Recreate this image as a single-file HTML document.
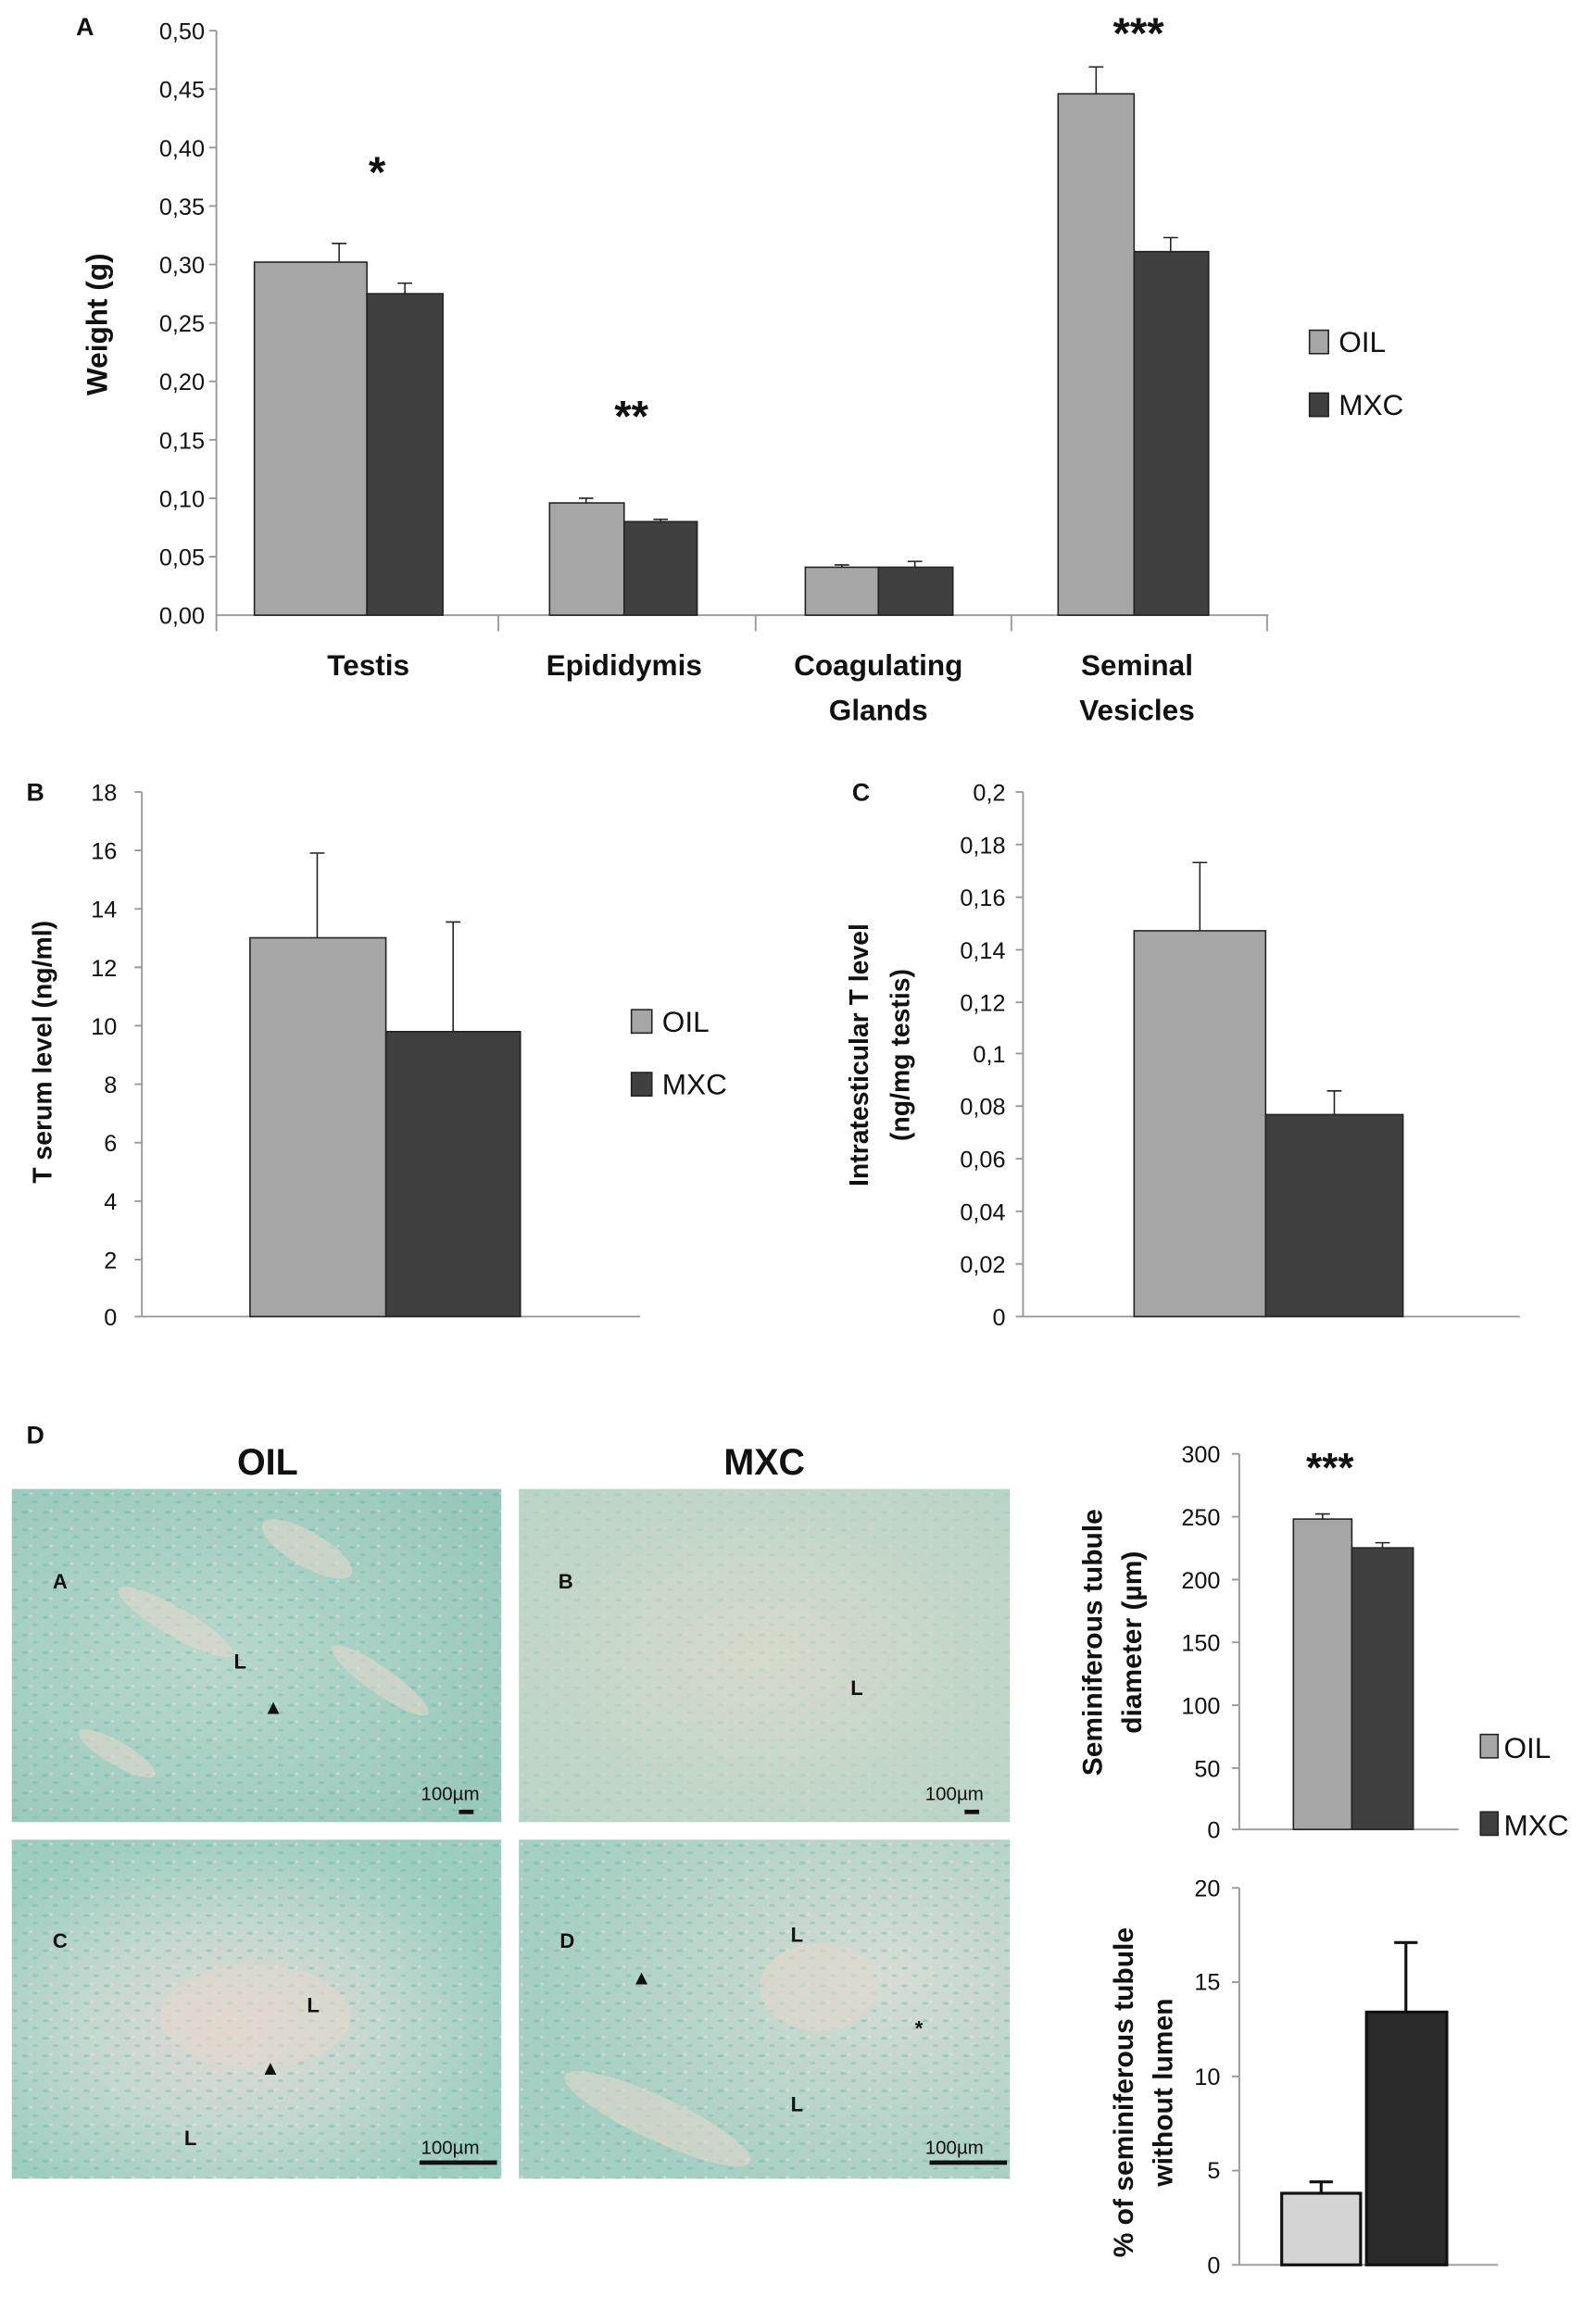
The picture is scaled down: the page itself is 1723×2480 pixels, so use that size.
<!DOCTYPE html>
<html><head><meta charset="utf-8"><style>
html,body{margin:0;padding:0;background:#fff}
svg{display:block}
text{font-family:"Liberation Sans",sans-serif;fill:#111}
.t{font-size:16px}
.b{font-weight:bold}
</style></head><body>
<svg width="1723" height="2480" viewBox="0 0 1092 1572" xmlns="http://www.w3.org/2000/svg">
<defs>
<radialGradient id="g1" cx="40%" cy="50%" r="70%"><stop offset="0" stop-color="#b9d8cd"/><stop offset="1" stop-color="#98c8bb"/></radialGradient>
<radialGradient id="g2" cx="50%" cy="50%" r="70%"><stop offset="0" stop-color="#d6dacb"/><stop offset="1" stop-color="#b8d4c6"/></radialGradient>
<radialGradient id="g3" cx="45%" cy="55%" r="60%"><stop offset="0" stop-color="#e3dad4"/><stop offset="0.5" stop-color="#c3d8d0"/><stop offset="1" stop-color="#9ccdc0"/></radialGradient>
<radialGradient id="g4" cx="75%" cy="40%" r="70%"><stop offset="0" stop-color="#d6ddd4"/><stop offset="1" stop-color="#a6cfc3"/></radialGradient>
<pattern id="tx" width="14" height="12" patternUnits="userSpaceOnUse">
<ellipse cx="3" cy="3" rx="2.2" ry="1" fill="#4fb3a0" opacity="0.35"/>
<ellipse cx="10" cy="8" rx="2" ry="1" fill="#4fb3a0" opacity="0.3"/>
<circle cx="7" cy="2" r="1" fill="#f0e6dc" opacity="0.5"/>
</pattern>
</defs>

<!-- Panel A -->
<text x="52" y="24" class="b" font-size="17">A</text>
<g class="t" text-anchor="end" font-size="16">
<text x="140" y="27">0,50</text><text x="140" y="67">0,45</text><text x="140" y="107">0,40</text>
<text x="140" y="147">0,35</text><text x="140" y="187">0,30</text><text x="140" y="227">0,25</text>
<text x="140" y="267">0,20</text><text x="140" y="307">0,15</text><text x="140" y="347">0,10</text>
<text x="140" y="387">0,05</text><text x="140" y="427">0,00</text>
</g>
<g stroke="#999" stroke-width="1.2">
<line x1="148" y1="21" x2="148" y2="432"/><line x1="148" y1="421" x2="868" y2="421"/>
<line x1="143" y1="21" x2="148" y2="21"/><line x1="143" y1="61" x2="148" y2="61"/><line x1="143" y1="101" x2="148" y2="101"/><line x1="143" y1="141" x2="148" y2="141"/><line x1="143" y1="181" x2="148" y2="181"/><line x1="143" y1="221" x2="148" y2="221"/><line x1="143" y1="261" x2="148" y2="261"/><line x1="143" y1="301" x2="148" y2="301"/><line x1="143" y1="341" x2="148" y2="341"/><line x1="143" y1="381" x2="148" y2="381"/>
<line x1="341" y1="421" x2="341" y2="432"/><line x1="517" y1="421" x2="517" y2="432"/><line x1="692" y1="421" x2="692" y2="432"/><line x1="867" y1="421" x2="867" y2="432"/>
</g>
<g stroke="#222" stroke-width="1">
<rect x="174" y="179.4" width="77" height="241.6" fill="#a6a6a6"/>
<rect x="251" y="201" width="52" height="220" fill="#404040"/>
<rect x="376" y="344.2" width="51" height="76.8" fill="#a6a6a6"/>
<rect x="427" y="357" width="50" height="64" fill="#404040"/>
<rect x="551" y="388.2" width="50" height="32.8" fill="#a6a6a6"/>
<rect x="601" y="388.2" width="51" height="32.8" fill="#404040"/>
<rect x="724" y="64.2" width="52" height="356.8" fill="#a6a6a6"/>
<rect x="776" y="172.2" width="51" height="248.8" fill="#404040"/>
<path d="M232 179V166.6M227 166.6H237M277 201V193.8M272 193.8H282M401 344V341M396 341H406M452 357V355.4M447 355.4H457M576 388V386.6M571 386.6H581M626 388V384.2M621 384.2H631M750 64V45.8M745 45.8H755M801 172V162.6M796 162.6H806" fill="none"/>
</g>
<g font-size="30" text-anchor="middle" class="b"><text x="258" y="128">*</text><text x="432" y="295">**</text><text x="779" y="33">***</text></g>
<text transform="translate(73,222) rotate(-90)" text-anchor="middle" class="b" font-size="20">Weight (g)</text>
<g text-anchor="middle" font-size="20" class="b" fill="#222">
<text x="252" y="462">Testis</text><text x="427" y="462">Epididymis</text>
<text x="601" y="462">Coagulating</text><text x="601" y="493">Glands</text>
<text x="778" y="462">Seminal</text><text x="778" y="493">Vesicles</text>
</g>
<rect x="896" y="226" width="13" height="16" fill="#a6a6a6" stroke="#222"/>
<text x="916" y="241" font-size="20">OIL</text>
<rect x="896" y="269" width="13" height="16" fill="#404040" stroke="#222"/>
<text x="916" y="284" font-size="20">MXC</text>

<!-- Panel B -->
<text x="18" y="548" class="b" font-size="17">B</text>
<g text-anchor="end" font-size="16">
<text x="80" y="548">18</text><text x="80" y="588">16</text><text x="80" y="628">14</text><text x="80" y="668">12</text><text x="80" y="708">10</text><text x="80" y="748">8</text><text x="80" y="788">6</text><text x="80" y="828">4</text><text x="80" y="868">2</text><text x="80" y="907">0</text>
</g>
<g stroke="#999" stroke-width="1.2">
<line x1="97" y1="542" x2="97" y2="901"/><line x1="97" y1="901" x2="438" y2="901"/>
<path d="M92 542H97M92 582H97M92 622H97M92 662H97M92 702H97M92 742H97M92 782H97M92 822H97M92 862H97M92 901H97"/>
</g>
<g stroke="#222" stroke-width="1">
<rect x="171" y="641.8" width="93" height="259.2" fill="#a6a6a6"/>
<rect x="264" y="706" width="92" height="195" fill="#404040"/>
<path d="M217 642V583.8M212 583.8H222M310 706V631M305 631H315" fill="none"/>
</g>
<text transform="translate(35,720) rotate(-90)" text-anchor="middle" class="b" font-size="18">T serum level (ng/ml)</text>
<rect x="432" y="691" width="14" height="16" fill="#a6a6a6" stroke="#222"/>
<text x="453" y="706" font-size="20">OIL</text>
<rect x="432" y="734" width="14" height="16" fill="#404040" stroke="#222"/>
<text x="453" y="749" font-size="20">MXC</text>

<!-- Panel C -->
<text x="583" y="548" class="b" font-size="17">C</text>
<g text-anchor="end" font-size="16">
<text x="688" y="548">0,2</text><text x="688" y="584">0,18</text><text x="688" y="620">0,16</text><text x="688" y="656">0,14</text><text x="688" y="692">0,12</text><text x="688" y="727">0,1</text><text x="688" y="763">0,08</text><text x="688" y="799">0,06</text><text x="688" y="835">0,04</text><text x="688" y="871">0,02</text><text x="688" y="907">0</text>
</g>
<g stroke="#999" stroke-width="1.2">
<line x1="700" y1="542" x2="700" y2="901"/><line x1="700" y1="901" x2="1040" y2="901"/>
<path d="M695 542H700M695 578H700M695 614H700M695 650H700M695 686H700M695 721H700M695 757H700M695 793H700M695 829H700M695 865H700M695 901H700"/>
</g>
<g stroke="#222" stroke-width="1">
<rect x="776" y="637" width="90" height="264" fill="#a6a6a6"/>
<rect x="866" y="762.8" width="94" height="138.2" fill="#404040"/>
<path d="M821 637V590.3M816 590.3H826M913 763V746.6M908 746.6H918" fill="none"/>
</g>
<text transform="translate(594,722) rotate(-90)" text-anchor="middle" class="b" font-size="18">Intratesticular T level</text>
<text transform="translate(622,722) rotate(-90)" text-anchor="middle" class="b" font-size="18">(ng/mg testis)</text>

<!-- Panel D -->
<text x="18" y="988" class="b" font-size="17">D</text>
<text x="183" y="1009" text-anchor="middle" class="b" font-size="25">OIL</text>
<text x="523" y="1009" text-anchor="middle" class="b" font-size="25">MXC</text>
<rect x="8" y="1019" width="335" height="228" fill="url(#g1)"/>
<rect x="355" y="1019" width="336" height="228" fill="url(#g2)"/>
<rect x="8" y="1259" width="335" height="232" fill="url(#g3)"/>
<rect x="355" y="1259" width="336" height="232" fill="url(#g4)"/>
<rect x="8" y="1019" width="335" height="228" fill="url(#tx)"/>
<rect x="355" y="1019" width="336" height="228" fill="url(#tx)" opacity="0.4"/>
<rect x="8" y="1259" width="335" height="232" fill="url(#tx)"/>
<rect x="355" y="1259" width="336" height="232" fill="url(#tx)"/>
<g fill="#e3d8cc" opacity="0.6">
<ellipse cx="210" cy="1060" rx="35" ry="12" transform="rotate(30 210 1060)"/>
<ellipse cx="120" cy="1110" rx="45" ry="10" transform="rotate(30 120 1110)"/>
<ellipse cx="260" cy="1150" rx="40" ry="9" transform="rotate(35 260 1150)"/>
<ellipse cx="80" cy="1200" rx="30" ry="8" transform="rotate(30 80 1200)"/>
<ellipse cx="175" cy="1380" rx="65" ry="35"/>
<ellipse cx="560" cy="1360" rx="40" ry="30"/>
<ellipse cx="450" cy="1450" rx="70" ry="15" transform="rotate(25 450 1450)"/>
</g>
<g font-size="14" class="b" fill="#222">
<text x="36" y="1087">A</text><text x="382" y="1087">B</text><text x="36" y="1333">C</text><text x="383" y="1333">D</text>
<text x="160" y="1142">L</text><text x="582" y="1160">L</text><text x="210" y="1377">L</text><text x="126" y="1468">L</text><text x="541" y="1329">L</text><text x="541" y="1445">L</text>
<text x="180" y="1173">▲</text><text x="178" y="1420">▲</text><text x="432" y="1358">▲</text><text x="626" y="1393">*</text>
</g>
<g font-size="13" fill="#222"><text x="288" y="1232">100µm</text><text x="633" y="1232">100µm</text><text x="288" y="1474">100µm</text><text x="633" y="1474">100µm</text></g>
<g stroke="#111" stroke-width="3"><line x1="314" y1="1240" x2="324" y2="1240"/><line x1="660" y1="1240" x2="670" y2="1240"/><line x1="287" y1="1480" x2="340" y2="1480"/><line x1="636" y1="1480" x2="689" y2="1480"/></g>

<!-- D chart 1 -->
<g text-anchor="end" font-size="16">
<text x="835" y="1001">300</text><text x="835" y="1044">250</text><text x="835" y="1087">200</text><text x="835" y="1130">150</text><text x="835" y="1173">100</text><text x="835" y="1216">50</text><text x="835" y="1258">0</text>
</g>
<g stroke="#999" stroke-width="1.2">
<line x1="848" y1="995" x2="848" y2="1252"/><line x1="848" y1="1252" x2="998" y2="1252"/>
<path d="M843 995H848M843 1038H848M843 1081H848M843 1124H848M843 1167H848M843 1210H848M843 1252H848"/>
</g>
<g stroke="#222" stroke-width="1">
<rect x="885" y="1039.6" width="40" height="212.4" fill="#a6a6a6"/>
<rect x="925" y="1059.3" width="42" height="192.7" fill="#404040"/>
<path d="M905 1040V1036.1M900 1036.1H910M946 1059V1055.8M941 1055.8H951" fill="none"/>
</g>
<text x="910" y="1014" text-anchor="middle" class="b" font-size="28">***</text>
<text transform="translate(754,1124) rotate(-90)" text-anchor="middle" class="b" font-size="19">Seminiferous tubule</text>
<text transform="translate(781,1124) rotate(-90)" text-anchor="middle" class="b" font-size="19">diameter (µm)</text>
<rect x="1013" y="1187" width="12" height="16" fill="#a6a6a6" stroke="#222"/>
<text x="1029" y="1203" font-size="20">OIL</text>
<rect x="1013" y="1240" width="12" height="16" fill="#404040" stroke="#222"/>
<text x="1029" y="1256" font-size="20">MXC</text>

<!-- D chart 2 -->
<g text-anchor="end" font-size="16">
<text x="835" y="1298">20</text><text x="835" y="1362">15</text><text x="835" y="1427">10</text><text x="835" y="1491">5</text><text x="835" y="1556">0</text>
</g>
<g stroke="#999" stroke-width="1.2">
<line x1="848" y1="1292" x2="848" y2="1550"/><line x1="848" y1="1550" x2="1025" y2="1550"/>
<path d="M843 1292H848M843 1356.5H848M843 1421H848M843 1485.5H848M843 1550H848"/>
</g>
<g stroke="#111" stroke-width="2">
<rect x="877" y="1501" width="54" height="49" fill="#d4d4d4"/>
<rect x="935" y="1377" width="55" height="173" fill="#2a2a2a"/>
<path d="M904 1501V1493.2M896 1493.2H912M962 1377V1329.4M954 1329.4H970" fill="none"/>
</g>
<text transform="translate(775,1432) rotate(-90)" text-anchor="middle" class="b" font-size="19">% of seminiferous tubule</text>
<text transform="translate(802,1432) rotate(-90)" text-anchor="middle" class="b" font-size="19">without lumen</text>
</svg>
</body></html>
